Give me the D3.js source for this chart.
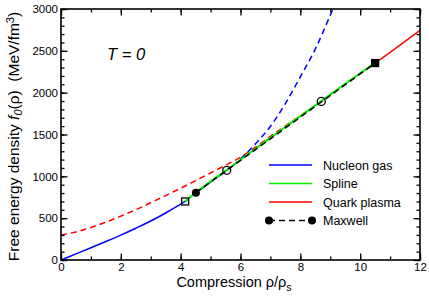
<!DOCTYPE html>
<html>
<head>
<meta charset="utf-8">
<script src="https://d3js.org/d3.v7.min.js"></script>
<style>
body { margin: 0; background: #fff; }
text { font-family: "Liberation Sans", Arial, sans-serif; fill: #000; }
</style>
</head>
<body>
<script>
// nucleon gas (solid part, then dashed continuation)
var nucX = [0, 0.5, 1, 1.5, 2, 2.5, 3, 3.5, 4, 4.15];
var nucF = [0, 73, 146, 221, 298, 380, 466, 562, 667, 700];
var nucDashX = [4.15, 4.5, 5, 5.54, 6, 6.5, 7, 7.5, 8, 8.5, 9, 9.2];
var nucDashF = [700, 795, 930, 1074, 1208, 1388, 1598, 1870, 2190, 2520, 2925, 3090];
// quark plasma (dashed below the transition, solid above)
var qX = [0, 0.5, 1, 1.5, 2, 2.5, 3, 3.5, 4, 4.5, 5, 5.5, 6, 6.5, 7, 7.5, 8, 8.5, 9, 9.5, 10, 10.5];
var qF = [300, 335, 389, 452, 524, 601, 684, 770, 858, 948, 1040, 1133, 1228, 1348, 1478, 1602, 1724, 1846, 1972, 2100, 2228, 2354];
var qSolidX = [10.5, 11, 11.5, 12];
var qSolidF = [2354, 2482, 2612, 2745];
// spline
var splX = [4.15, 4.5, 5, 5.54, 6, 6.5, 7, 7.5, 8, 8.7, 9.5, 10, 10.5];
var splF = [700, 803, 940, 1074, 1198, 1330, 1460, 1590, 1720, 1898, 2106, 2232, 2354];
// Maxwell construction end points
var maxX = [4.51, 10.5];
var maxF = [805, 2354];
// marker points
var squareX = [4.15, 10.5];
var squareF = [700, 2354];
var circleX = [5.54, 8.7];
var circleF = [1072, 1895];

var xTicks = [0, 2, 4, 6, 8, 10, 12];
var yTicks = [0, 500, 1000, 1500, 2000, 2500, 3000];

var legendNames = ["Nucleon gas", "Spline", "Quark plasma", "Maxwell"];
var legendColors = ["#0000ff", "#00f000", "#ff0000", "#000"];

var W = 429, H = 298;
var m = {left: 61, right: 9, top: 9, bottom: 38};
var iw = W - m.left - m.right, ih = H - m.top - m.bottom;

var svg = d3.select("body").append("svg").attr("width", W).attr("height", H);
var g = svg.append("g").attr("transform", "translate(" + m.left + "," + m.top + ")");

var x = d3.scaleLinear().domain([0, 12]).range([0, iw]);
var y = d3.scaleLinear().domain([0, 3000]).range([ih, 0]);

svg.append("defs").append("clipPath").attr("id", "clip")
  .append("rect").attr("width", iw).attr("height", ih);

var line = d3.line().x(function(d){ return x(d[0]); }).y(function(d){ return y(d[1]); }).curve(d3.curveMonotoneX);
function pts(xs, ys){ return xs.map(function(v, i){ return [v, ys[i]]; }); }

var plot = g.append("g").attr("clip-path", "url(#clip)");

plot.append("path").attr("d", line(pts(qX, qF))).attr("fill", "none")
  .attr("stroke", "#ff0000").attr("stroke-width", 1.5).attr("stroke-dasharray", "6,4");
plot.append("path").attr("d", line(pts(nucDashX, nucDashF))).attr("fill", "none")
  .attr("stroke", "#0000ff").attr("stroke-width", 1.5).attr("stroke-dasharray", "6,4");
plot.append("path").attr("d", line(pts(nucX, nucF))).attr("fill", "none")
  .attr("stroke", "#0000ff").attr("stroke-width", 1.5);
plot.append("path").attr("d", line(pts(qSolidX, qSolidF))).attr("fill", "none")
  .attr("stroke", "#ff0000").attr("stroke-width", 1.5);
plot.append("path").attr("d", line(pts(splX, splF))).attr("fill", "none")
  .attr("stroke", "#00f000").attr("stroke-width", 2);
plot.append("path").attr("d", d3.line()(pts(maxX, maxF).map(function(d){ return [x(d[0]), y(d[1])]; })))
  .attr("fill", "none").attr("stroke", "#000").attr("stroke-width", 1.5).attr("stroke-dasharray", "6,4");

// markers
g.selectAll(".sq").data(pts(squareX, squareF)).enter().append("rect")
  .attr("x", function(d){ return x(d[0]) - 3.5; }).attr("y", function(d){ return y(d[1]) - 3.5; })
  .attr("width", 7).attr("height", 7).attr("fill", "none").attr("stroke", "#000").attr("stroke-width", 1.3);
g.selectAll(".oc").data(pts(circleX, circleF)).enter().append("circle")
  .attr("cx", function(d){ return x(d[0]); }).attr("cy", function(d){ return y(d[1]); })
  .attr("r", 4).attr("fill", "none").attr("stroke", "#000").attr("stroke-width", 1.3);
g.selectAll(".fc").data(pts(maxX, maxF)).enter().append("circle")
  .attr("cx", function(d){ return x(d[0]); }).attr("cy", function(d){ return y(d[1]); })
  .attr("r", 4).attr("fill", "#000");

// axes, ticks inward on all sides
var xMinor = d3.range(0, 13, 1), yMinor = d3.range(0, 3001, 100);
function styleAxis(sel){
  sel.select(".domain").remove();
  sel.selectAll("line").attr("stroke", "#000").attr("stroke-width", 1.3);
  sel.selectAll("text").style("font-size", "11.5px").style("font-family", "'Liberation Sans', Arial, sans-serif");
}
g.append("g").attr("transform", "translate(0," + ih + ")")
  .call(d3.axisBottom(x).tickValues(xMinor).tickSize(-3.5).tickFormat("")).call(styleAxis);
g.append("g").attr("transform", "translate(0," + ih + ")")
  .call(d3.axisBottom(x).tickValues(xTicks).tickSize(-6.5).tickPadding(3).tickFormat(d3.format("d"))).call(styleAxis);
g.append("g").call(d3.axisTop(x).tickValues(xMinor).tickSize(-3.5).tickFormat("")).call(styleAxis);
g.append("g").call(d3.axisTop(x).tickValues(xTicks).tickSize(-6.5).tickFormat("")).call(styleAxis);
g.append("g").call(d3.axisLeft(y).tickValues(yMinor).tickSize(-3.5).tickFormat("")).call(styleAxis);
g.append("g").call(d3.axisLeft(y).tickValues(yTicks).tickSize(-6.5).tickPadding(3).tickFormat(d3.format("d"))).call(styleAxis);
g.append("g").attr("transform", "translate(" + iw + ",0)")
  .call(d3.axisRight(y).tickValues(yMinor).tickSize(-3.5).tickFormat("")).call(styleAxis);
g.append("g").attr("transform", "translate(" + iw + ",0)")
  .call(d3.axisRight(y).tickValues(yTicks).tickSize(-6.5).tickFormat("")).call(styleAxis);

g.append("rect").attr("width", iw).attr("height", ih).attr("fill", "none")
  .attr("stroke", "#000").attr("stroke-width", 1.6);

// T = 0
g.append("text").attr("x", 46).attr("y", 51).style("font-size", "16.5px").style("font-style", "italic")
  .text("T = 0");

// legend
var leg = g.append("g").attr("transform", "translate(208,156)");
legendNames.forEach(function(name, i){
  var ly = i * 18.5;
  var row = leg.append("g").attr("transform", "translate(0," + ly + ")");
  row.append("line").attr("x1", 0).attr("x2", 43).attr("y1", 0).attr("y2", 0)
    .attr("stroke", legendColors[i]).attr("stroke-width", 1.5)
    .attr("stroke-dasharray", name === "Maxwell" ? "6,4" : null);
  if (name === "Maxwell") {
    row.append("circle").attr("cx", 0).attr("cy", 0).attr("r", 4).attr("fill", "#000");
    row.append("circle").attr("cx", 43).attr("cy", 0).attr("r", 4).attr("fill", "#000");
  }
  row.append("text").attr("x", 54).attr("y", 4.5).style("font-size", "12.5px").text(name);
});

// axis titles
var xt = svg.append("text").attr("x", 234).attr("y", 287)
  .attr("text-anchor", "middle").style("font-size", "14.5px");
xt.append("tspan").text("Compression \u03c1/\u03c1");
xt.append("tspan").attr("dy", 4).style("font-size", "10.5px").text("s");

var yt = svg.append("text").attr("transform", "translate(19," + (m.top + ih / 2 + 2) + ") rotate(-90)")
  .attr("text-anchor", "middle").style("font-size", "15.5px");
yt.append("tspan").text("Free energy density ");
yt.append("tspan").style("font-style", "italic").text("f");
yt.append("tspan").attr("dy", 3).style("font-size", "11px").style("font-style", "italic").text("0");
yt.append("tspan").attr("dy", -3).text("(\u03c1)\u00a0\u00a0(MeV/fm");
yt.append("tspan").attr("dy", -5).style("font-size", "11px").text("3");
yt.append("tspan").attr("dy", 5).text(")");
</script>
</body>
</html>
